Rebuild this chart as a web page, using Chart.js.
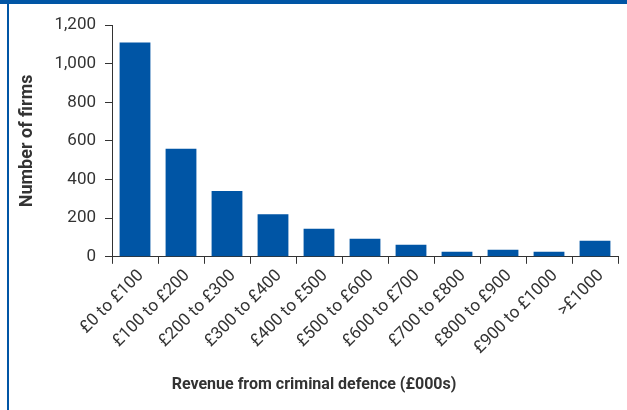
<!DOCTYPE html>
<html>
<head>
<meta charset="utf-8">
<script src="https://cdn.jsdelivr.net/npm/chart.js@4"></script>
<style>
  html, body { margin: 0; padding: 0; background: #fff; }
  #wrap { position: relative; width: 627px; height: 410px; }
  #topband { position: absolute; left: 0; top: 0; width: 627px; height: 4px; background: #0055a5; }
  #leftline { position: absolute; left: 7px; top: 0; width: 2px; height: 410px; background: #0055a5; }
</style>
</head>
<body>
<div id="wrap">
  <canvas id="RevenueChart" width="627" height="410"></canvas>
  <div id="topband"></div>
  <div id="leftline"></div>
</div>
<script>
const categories = ['£0 to £100', '£100 to £200', '£200 to £300', '£300 to £400', '£400 to £500',
    '£500 to £600', '£600 to £700', '£700 to £800', '£800 to £900', '£900 to £1000', '>£1000'];
const firms = [1110, 560, 340, 220, 145, 94, 62, 26, 36, 26, 83];
const yTicks = [0, 200, 400, 600, 800, 1000, 1200];

document.addEventListener("DOMContentLoaded", function() {
    const ctx = document.getElementById('RevenueChart').getContext('2d');
    const axisColor = '#333333';
    new Chart(ctx, {
        type: 'bar',
        data: {
            labels: categories,
            datasets: [{
                label: 'Number of firms',
                data: firms,
                backgroundColor: '#0055a5',
                borderWidth: 0,
                categoryPercentage: 1.0,
                barPercentage: 0.67
            }]
        },
        options: {
            responsive: false,
            animation: false,
            layout: {padding: {left: 10, right: 9, top: 25, bottom: 0}},
            plugins: {
                legend: {display: false},
                tooltip: {enabled: false},
                title: {
                    display: true,
                    position: 'bottom',
                    text: 'Revenue from criminal defence (£000s)',
                    color: axisColor,
                    font: {family: 'Roboto', weight: 'bold', size: 16},
                    padding: {top: 0, bottom: 15}
                }
            },
            scales: {
                y: {
                    min: 0,
                    max: 1200,
                    afterBuildTicks: function(scale) {
                        scale.ticks = yTicks.map(v => ({value: v}));
                    },
                    afterFit: function(scale) { scale.width = 102; },
                    border: {display: true, color: axisColor, width: 1},
                    grid: {drawOnChartArea: false, drawTicks: true, tickLength: 7, color: axisColor},
                    ticks: {
                        color: axisColor,
                        padding: 9,
                        font: {family: 'Roboto', size: 17},
                        callback: v => v.toLocaleString('en-GB')
                    },
                    title: {
                        display: true,
                        text: 'Number of firms',
                        color: axisColor,
                        font: {family: 'Roboto', weight: 'bold', size: 18},
                        padding: {top: 7, bottom: 0}
                    }
                },
                x: {
                    afterFit: function(scale) { scale.height = 119; },
                    border: {display: true, color: axisColor, width: 1},
                    grid: {drawOnChartArea: false, drawTicks: true, tickLength: 7, color: axisColor, offset: true},
                    ticks: {
                        color: axisColor,
                        minRotation: 45,
                        maxRotation: 45,
                        autoSkip: false,
                        padding: 2,
                        labelOffset: 6,
                        font: {family: 'Roboto', size: 17}
                    }
                }
            }
        }
    });
});
</script>
</body>
</html>
